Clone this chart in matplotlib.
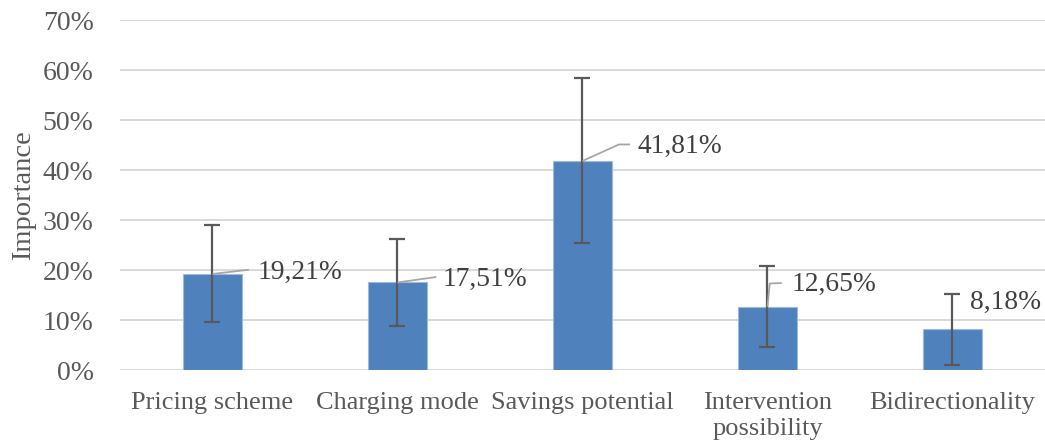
import matplotlib
matplotlib.use("Agg")
import matplotlib.pyplot as plt
from matplotlib.ticker import FuncFormatter

categories = ["Pricing scheme", "Charging mode", "Savings potential",
              "Intervention\npossibility", "Bidirectionality"]
importance = [19.21, 17.51, 41.81, 12.65, 8.18]
errors = [9.7, 8.7, 16.5, 8.1, 7.1]
labels = ["19,21%", "17,51%", "41,81%", "12,65%", "8,18%"]

# label placement (offsets relative to bar centre / value) and leader paths
label_pos = [(0.246, 19.6), (0.246, 18.2), (0.30, 44.7), (0.131, 17.2), (0.095, 13.5)]
leaders = [
    [(0.0, 0.0), (0.197, 0.85)],
    [(0.0, 0.0), (0.21, 1.1)],
    [(0.0, 0.0), (0.197, 3.3), (0.257, 3.3)],
    [(0.0, 0.0), (0.012, 4.65), (0.077, 4.75)],
    None,
]

plt.rcParams['font.family'] = ['Liberation Serif', 'DejaVu Serif']
text_color = '#595959'

fig = plt.figure(figsize=(10.45, 4.45), dpi=100)
ax = fig.add_axes([0.1148, 0.1685, 0.8852, 0.7865])

x = list(range(len(categories)))
ax.bar(x, importance, width=0.314, color='#4F81BD', edgecolor='#9DB9DD',
       linewidth=0.8, zorder=3)
ax.errorbar(x, importance, yerr=errors, fmt='none', ecolor='#595959',
            elinewidth=1.6, capsize=6, capthick=1.6, zorder=4)

for i, (v, lab) in enumerate(zip(importance, labels)):
    if leaders[i] is not None:
        xs = [i + p[0] for p in leaders[i]]
        ys = [v + p[1] for p in leaders[i]]
        ax.plot(xs, ys, color='#A6A6A6', lw=1.3, zorder=5, solid_capstyle='butt')
    dx, ty = label_pos[i]
    ax.text(i + dx, ty, lab, fontsize=19.8, color='#404040', ha='left',
            va='center', zorder=6)

ax.set_xlim(-0.5, 4.5)
ax.set_ylim(0, 70)
ax.set_yticks([0, 10, 20, 30, 40, 50, 60, 70])
ax.yaxis.set_major_formatter(FuncFormatter(lambda v, p: f"{v:.0f}%"))
ax.set_xticks(x)
ax.set_xticklabels(categories, linespacing=1.25)

ax.grid(axis='y', color='#D9D9D9', lw=1.4, zorder=0)
ax.set_axisbelow(True)
for s in ax.spines.values():
    s.set_visible(False)

ax.tick_params(axis='y', length=0, pad=19, labelsize=20, labelcolor=text_color)
ax.tick_params(axis='x', length=0, pad=16, labelsize=19, labelcolor=text_color)
ax.set_ylabel("Importance", fontsize=20.5, color=text_color, labelpad=5)

fig.savefig("out.png", dpi=100)
